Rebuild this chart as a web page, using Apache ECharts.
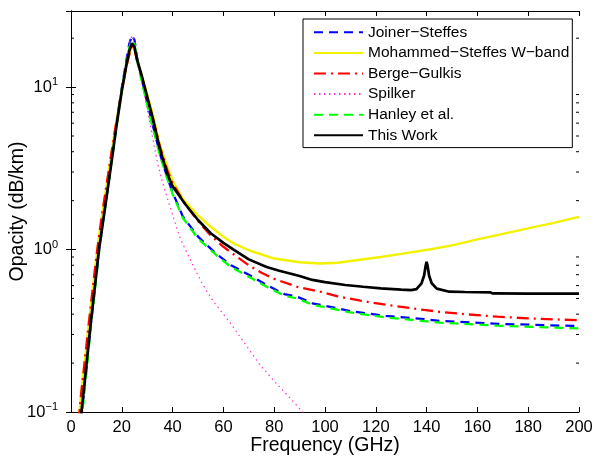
<!DOCTYPE html>
<html><head><meta charset="utf-8">
<script src="https://cdn.jsdelivr.net/npm/echarts@6/dist/echarts.min.js"></script>
<style>html,body{margin:0;padding:0;background:#fff}#c{width:598px;height:464px}</style>
</head><body><div id="c"></div>
<script>
// ---- data (frequency in GHz, opacity in dB/km) ----
const xTicks = [0,20,40,60,80,100,120,140,160,180,200];
const yTickLabels = ['10^−1','10^0','10^1'];

const jsFreq = [4,5,6,7,8,9,10,11,12,14,16,18,20,22,23,24,25,26,28,30,32,35,38,40,44,50,57,63,70,77,84,89,95,110,124,139,145,168,200];
const jsVal  = [0.09,0.128,0.18,0.26,0.37,0.51,0.71,0.98,1.28,2.15,3.6,6.1,9.9,15.2,18.6,20.8,19.5,15.2,11.0,8.0,6.0,3.9,2.75,2.25,1.6,1.2,0.947,0.8,0.70,0.605,0.532,0.513,0.467,0.418,0.39,0.373,0.364,0.349,0.338];

const msFreq = [3,4,5,6,7,8,9,10,11,12,14,16,18,20,22,23,24,25,26,28,30,32,35,38,40,44,50,55,60,64,70,80,90,98,105,110,122,130,141,150,160,170,180,190,200];
const msVal  = [0.088,0.13,0.18,0.25,0.35,0.48,0.66,0.9,1.2,1.55,2.5,4.0,6.3,9.6,13.8,16.0,18.0,17.2,14.8,11.6,9.0,7.0,4.4,3.2,2.65,2.05,1.62,1.38,1.2,1.09,0.99,0.88,0.835,0.82,0.83,0.85,0.90,0.94,1.0,1.06,1.156,1.25,1.35,1.46,1.59];

const bgFreq = [3,4,5,6,7,8,9,10,11,12,14,16,18,20,22,23,24,25,26,28,30,32,35,38,40,45,50,55,60,65,70,75,80,89,98,105,114,125,139,145,155,168,180,190,200];
const bgVal  = [0.088,0.13,0.18,0.25,0.35,0.48,0.66,0.9,1.2,1.55,2.5,4.0,6.3,9.6,13.8,16.0,18.0,17.2,14.5,11.3,8.6,6.6,4.3,3.05,2.55,1.9,1.5,1.22,1.04,0.91,0.80,0.72,0.66,0.59,0.55,0.515,0.484,0.455,0.425,0.414,0.40,0.386,0.377,0.372,0.367];

const spFreq = [4,5,6,7,8,9,10,11,12,14,16,18,20,22,23,24,25,26,28,30,32,34,36,39,43,48,52,56,62.6,68,74.4,80,85,90,92];
const spVal  = [0.09,0.128,0.18,0.26,0.37,0.51,0.71,0.98,1.28,2.15,3.6,6.1,9.9,15.2,18.6,20.8,19.5,14.5,10.6,7.3,5.0,3.45,2.6,1.83,1.17,0.80,0.605,0.48,0.355,0.27,0.195,0.155,0.128,0.105,0.097];

const hlFreq = [4,5,6,7,8,9,10,11,12,14,16,18,20,22,23,24,25,26,28,30,32,35,38,40,44,50,57,63,70,77,84,89,95,110,124,139,145,168,200];
const hlVal  = [0.085,0.12,0.17,0.25,0.355,0.49,0.69,0.95,1.25,2.1,3.5,5.9,9.6,14.7,17.6,19.4,18.3,14.6,10.6,7.8,5.8,3.8,2.7,2.2,1.57,1.17,0.93,0.78,0.68,0.59,0.52,0.50,0.458,0.41,0.382,0.363,0.355,0.34,0.327];

const twFreq = [3.5,4.2,5,6,7,8,9,10,11,12,14,16,18,20,22,23,24,25,26,28,30,32,35,38,40,45,50,55,60,64,70,77,82,90,95,100,108,115,122,130,134,136,138,139,139.6,140,140.4,141,142,144,149,155,165,166,180,200];
const twVal  = [0.08,0.103,0.135,0.19,0.27,0.38,0.52,0.72,1.0,1.28,2.1,3.5,5.9,9.5,14.2,16.8,18.6,17.6,14.8,11.5,8.7,6.6,4.15,2.9,2.45,1.9,1.52,1.26,1.1,1.0,0.87,0.78,0.74,0.687,0.65,0.63,0.605,0.59,0.577,0.566,0.563,0.57,0.62,0.69,0.79,0.84,0.79,0.69,0.62,0.575,0.55,0.548,0.545,0.537,0.536,0.535];

const names = ['Joiner−Steffes','Mohammed−Steffes W−band','Berge−Gulkis','Spilker','Hanley et al.','This Work'];
const minorVals = [0.2,0.3,0.4,0.5,0.6,0.7,0.8,0.9,2,3,4,5,6,7,8,9,20];

// ---- build ----
const zip = (a,b) => a.map((x,i)=>[x,b[i]]);
const FONT = 'Liberation Sans, Arial, Helvetica, sans-serif';
const chart = echarts.init(document.getElementById('c'), null, {renderer:'canvas'});

function lineSeries(name, data, color, type, width, z){
  return {name, type:'line', data, symbol:'none', smooth:false, z,
    lineStyle:{color, width, type}, itemStyle:{color}, xAxisIndex:0, yAxisIndex:0, animation:false};
}
const yFmt = v => {
  const l = Math.log10(v);
  const e = Math.round(l);
  if (Math.abs(l - e) > 0.01) return '';
  return '{b|10}{e|' + (e<0 ? '−'+(-e) : e) + '}';
};
const axisCommon = {
  axisLine:{show:true, lineStyle:{color:'#000', width:1}},
  splitLine:{show:false},
};
chart.setOption({
  animation:false,
  backgroundColor:'#fff',
  textStyle:{fontFamily:FONT},
  grid:{left:71, top:11, right:19, bottom:52, containLabel:false, outerBoundsMode:'none'},
  legend:{
    data:names, orient:'vertical', left:303, top:19,
    padding:[3,3,2,10], itemGap:0, itemWidth:49, itemHeight:14,
    borderColor:'#000', borderWidth:1, borderRadius:0, backgroundColor:'#fff',
    itemStyle:{opacity:0},
    textStyle:{fontFamily:FONT, fontSize:15.5, color:'#000', lineHeight:20.6},
    selectedMode:false
  },
  xAxis:[
    Object.assign({type:'value', min:0, max:200, interval:20, position:'bottom',
      axisTick:{show:true, inside:true, length:5, lineStyle:{color:'#000'}},
      axisLabel:{show:true, color:'#000', fontSize:16.5, margin:7, fontFamily:FONT},
      name:'Frequency (GHz)', nameLocation:'middle', nameGap:24, nameMoveOverlap:false,
      nameTextStyle:{fontSize:19.5, color:'#000', fontFamily:FONT}}, axisCommon),
    Object.assign({type:'value', min:0, max:200, interval:20, position:'top',
      axisTick:{show:true, inside:true, length:5, lineStyle:{color:'#000'}},
      axisLabel:{show:false}}, axisCommon)
  ],
  yAxis:[
    Object.assign({type:'log', logBase:10, min:0.1, max:29.4, position:'left',
      axisTick:{show:true, inside:true, length:5, lineStyle:{color:'#000'}},
      axisLabel:{show:true, formatter:yFmt, margin:13, color:'#000', showMaxLabel:false,
        rich:{b:{fontSize:16.5, fontFamily:FONT, color:'#000'}, e:{fontSize:11, fontFamily:FONT, color:'#000', verticalAlign:'top', padding:[0,0,10,0]}}},
      name:'Opacity (dB/km)', nameLocation:'middle', nameGap:43, nameRotate:90, nameMoveOverlap:false,
      nameTextStyle:{fontSize:19.5, color:'#000', fontFamily:FONT}}, axisCommon),
    Object.assign({type:'log', logBase:10, min:0.1, max:29.4, position:'right',
      axisTick:{show:true, inside:true, length:5, lineStyle:{color:'#000'}},
      axisLabel:{show:false}}, axisCommon)
  ],
  series:[
    lineSeries(names[0], zip(jsFreq, jsVal), '#0000ff', [9,6], 2.3, 2),
    lineSeries(names[1], zip(msFreq, msVal), '#f2f200', 'solid', 2.4, 3),
    lineSeries(names[2], zip(bgFreq, bgVal), '#ff0000', [12,5,2,5], 2.3, 4),
    lineSeries(names[3], zip(spFreq, spVal), '#ff33cc', [1.5,3.5], 1.2, 5),
    lineSeries(names[4], zip(hlFreq, hlVal), '#00ff00', [9,6], 2.3, 6),
    lineSeries(names[5], zip(twFreq, twVal), '#000000', 'solid', 2.7, 7),
    {type:'custom', name:'minorTicks', xAxisIndex:0, yAxisIndex:0, z:10, silent:true, clip:false,
      data: minorVals.map(v=>[0,v]),
      renderItem:(params, api)=>{
        const v = api.value(1);
        const l = api.coord([0, v]);
        const r = api.coord([200, v]);
        return {type:'group', children:[
          {type:'line', shape:{x1:l[0], y1:l[1], x2:l[0]+3, y2:l[1]}, style:{stroke:'#000', lineWidth:1}},
          {type:'line', shape:{x1:r[0], y1:r[1], x2:r[0]-3, y2:r[1]}, style:{stroke:'#000', lineWidth:1}}
        ]};
      }}
  ]
});
</script></body></html>
